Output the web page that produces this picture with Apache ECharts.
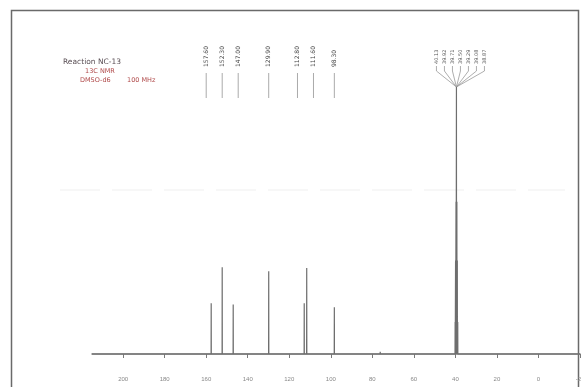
<!DOCTYPE html>
<html><head><meta charset="utf-8">
<script src="https://cdn.jsdelivr.net/npm/echarts@6/dist/echarts.min.js"></script>
<style>html,body{margin:0;padding:0;background:#fff}#c{width:581px;height:387px}</style>
</head><body><div id="c"></div>
<script>
// 13C NMR peaks (ppm) and relative intensities
const peakPpm = [157.6, 152.3, 147.0, 129.9, 112.8, 111.6, 98.3];
const peakHeight = [0.19, 0.325, 0.185, 0.31, 0.19, 0.322, 0.175];
// DMSO-d6 solvent septet
const solventPpm = [40.13, 39.92, 39.71, 39.50, 39.29, 39.08, 38.87];
const solventHeight = [0.12, 0.35, 0.57, 1.0, 0.57, 0.35, 0.12];
// minor baseline features
const minorPpm = [120.5, 76.2];
const minorHeight = [0.006, 0.008];
const ppmTicks = [200, 180, 160, 140, 120, 100, 80, 60, 40, 20, 0, -20];
const titleLines = ['Reaction NC-13', '13C NMR', 'DMSO-d6', '100 MHz'];

(function () {
const all = [];
peakPpm.forEach((p, i) => all.push([p, peakHeight[i]]));
solventPpm.forEach((p, i) => all.push([p, solventHeight[i]]));
minorPpm.forEach((p, i) => all.push([p, minorHeight[i]]));
all.sort((a, b) => b[0] - a[0]);
const lineData = [[215, 0]];
all.forEach(([p, h]) => { lineData.push([p + 0.05, 0], [p, h], [p - 0.05, 0]); });
lineData.push([-20, 0]);

const chart = echarts.init(document.getElementById('c'), null, {renderer: 'canvas'});
chart.setOption({
  animation: false,
  backgroundColor: '#fff',
  grid: {left: 92, right: 1, top: 40, bottom: 15, containLabel: false, outerBoundsMode: 'none'},
  xAxis: {
    type: 'value', inverse: true, min: -20, max: 215,
    splitLine: {show: false},
    axisLine: {lineStyle: {color: '#7a7a7a', width: 1.5}},
    axisTick: {customValues: ppmTicks, length: 4, lineStyle: {color: '#7a7a7a'}},
    axisLabel: {customValues: ppmTicks, fontSize: 6, color: '#888', margin: 4, hideOverlap: false}
  },
  yAxis: {type: 'value', min: -0.0674, max: 1.176, show: false},
  series: [{
    type: 'line', data: lineData, symbol: 'none', silent: true,
    lineStyle: {color: '#6e6e6e', width: 1.2}
  }]
});

function px(p, h) { return chart.convertToPixel({xAxisIndex: 0, yAxisIndex: 0}, [p, h]); }

const g = [];
g.push({type: 'line', shape: {x1: 60, y1: 190, x2: 565, y2: 190}, style: {stroke: '#f7f7f7', lineWidth: 2, lineDash: [40, 12]}, z: -1});
g.push({type: 'polyline', shape: {points: [[11.5, 390], [11.5, 10.5], [578.5, 10.5], [578.5, 390]]},
  style: {stroke: '#6a6a6a', lineWidth: 1.5, fill: null}});
g.push({type: 'text', x: 63, y: 62, style: {text: titleLines[0], fontSize: 7.5, fill: '#5a4f55', fontFamily: 'DejaVu Sans', textVerticalAlign: 'middle'}});
g.push({type: 'text', x: 85, y: 71, style: {text: titleLines[1], fontSize: 6.5, fill: '#b04a4a', fontFamily: 'DejaVu Sans', textVerticalAlign: 'middle'}});
g.push({type: 'text', x: 80, y: 80, style: {text: titleLines[2], fontSize: 6.5, fill: '#b04a4a', fontFamily: 'DejaVu Sans', textVerticalAlign: 'middle'}});
g.push({type: 'text', x: 127, y: 80, style: {text: titleLines[3], fontSize: 6.5, fill: '#b04a4a', fontFamily: 'DejaVu Sans', textVerticalAlign: 'middle'}});

const xs = peakPpm.map(p => px(p, 0)[0]);
const lx = xs.slice();
const minGap = 16;
for (let it = 0; it < 50; it++) {
  for (let i = 1; i < lx.length; i++) {
    const d = lx[i] - lx[i - 1];
    if (d < minGap) { const s = (minGap - d) / 2; lx[i - 1] -= s; lx[i] += s; }
  }
}
peakPpm.forEach((p, i) => {
  g.push({type: 'text', x: lx[i], y: 67, rotation: Math.PI / 2,
    style: {text: p.toFixed(2), fontSize: 6, fill: '#444', fontFamily: 'DejaVu Sans', textAlign: 'left', textVerticalAlign: 'middle'}});
  g.push({type: 'line', shape: {x1: lx[i], y1: 73, x2: lx[i], y2: 98}, style: {stroke: '#aaa', lineWidth: 1}});
});

const apex = px(39.5, 1.0);
solventPpm.forEach((p, i) => {
  const x = apex[0] + 4 + (i - 3) * 8;
  g.push({type: 'text', x: x, y: 64, rotation: Math.PI / 2,
    style: {text: p.toFixed(2), fontSize: 5, fill: '#555', fontFamily: 'DejaVu Sans', textAlign: 'left', textVerticalAlign: 'middle'}});
  g.push({type: 'polyline', shape: {points: [[x, 66], [x, 71], [apex[0], apex[1]]]}, style: {stroke: '#999', lineWidth: 0.8, fill: null}});
});
chart.setOption({graphic: g});
})();
</script></body></html>
